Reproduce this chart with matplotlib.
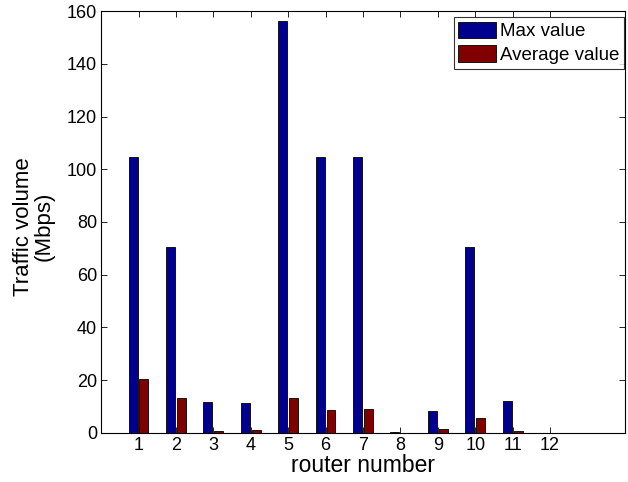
import matplotlib
matplotlib.use("Agg")
import matplotlib.pyplot as plt
import numpy as np

plt.rcParams['font.family'] = ['Liberation Sans', 'DejaVu Sans']

routers = [1, 2, 3, 4, 5, 6, 7, 8, 9, 10, 11, 12]
max_value = [104.7, 70.6, 11.7, 11.5, 156.4, 104.7, 104.7, 0.2, 8.3, 70.6, 12.1, 0.0]
avg_value = [20.4, 13.2, 0.8, 1.2, 13.4, 8.8, 9.2, 0.1, 1.4, 5.6, 0.7, 0.1]

fig = plt.figure(figsize=(6.28, 4.82), dpi=100)
ax = fig.add_axes([0.161, 0.102, 0.834, 0.875])

x = np.array(routers, dtype=float)
w = 0.24
off = 0.145
ax.bar(x - off, max_value, width=w, color='#00008F', edgecolor='black', linewidth=0.6, label='Max value')
ax.bar(x + off, avg_value, width=w, color='#800000', edgecolor='black', linewidth=0.6, label='Average value')

ax.set_xlim(0, 14)
ax.set_ylim(0, 160)
ax.set_xticks(routers)
ax.set_yticks(np.arange(0, 161, 20))
ax.tick_params(direction='in', top=True, right=True, labelsize=13, length=4, width=0.6, pad=3)
for s in ax.spines.values():
    s.set_linewidth(0.8)

ax.set_xlabel('router number', fontsize=16.5, labelpad=0)
ax.set_ylabel('Traffic volume\n(Mbps)', fontsize=16, linespacing=1.0)
ax.yaxis.set_label_coords(-0.088, 0.49)

leg = ax.legend(loc='upper right', bbox_to_anchor=(0.998, 0.986), fontsize=13.5, frameon=True,
                fancybox=False, borderaxespad=0, handlelength=2.0, handleheight=1.0,
                handletextpad=0.2, borderpad=0.25, labelspacing=0.25)
leg.get_frame().set_edgecolor('black')
leg.get_frame().set_linewidth(0.8)

fig.savefig('out.png', dpi=100)
